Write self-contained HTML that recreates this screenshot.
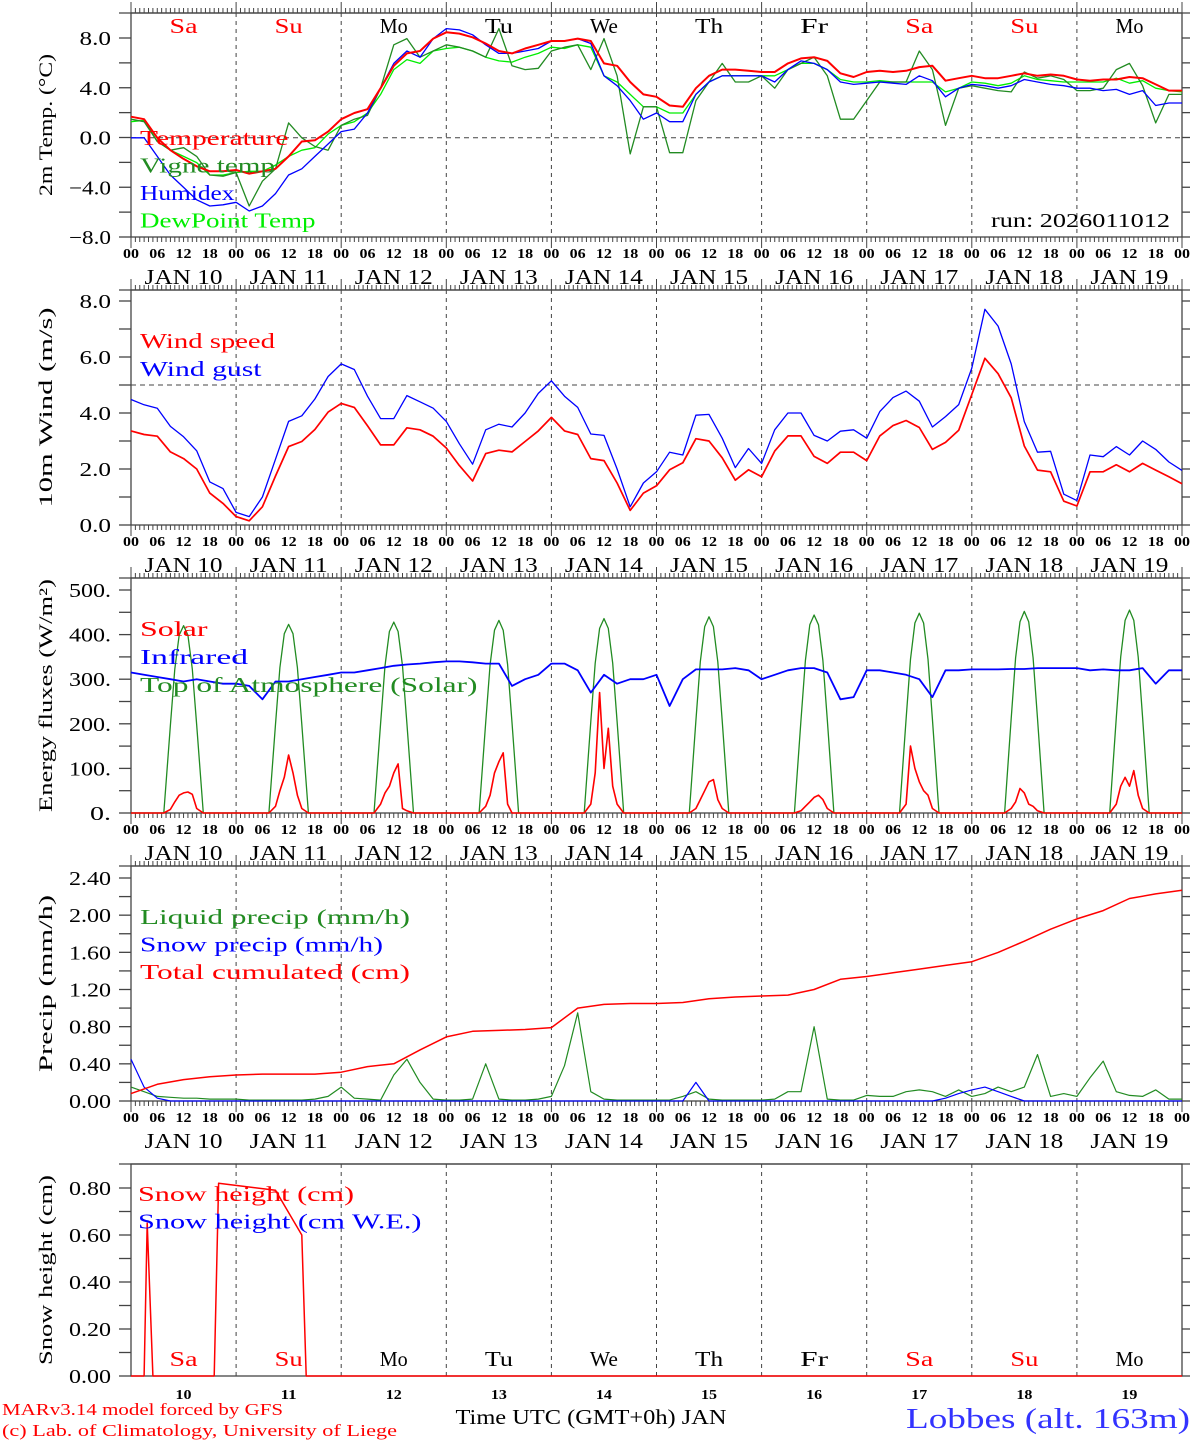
<!DOCTYPE html>
<html><head><meta charset="utf-8"><style>
html,body{margin:0;padding:0;background:#fff;}
svg{display:block;font-family:"Liberation Serif",serif;}
</style></head><body>
<svg id="chart" width="1194" height="1440" viewBox="0 0 1194 1440" xmlns="http://www.w3.org/2000/svg"></svg>
<script>
// ---------- DATA ----------
const dayNames=["Sa","Su","Mo","Tu","We","Th","Fr","Sa","Su","Mo"];
const dayDates=["10","11","12","13","14","15","16","17","18","19"];
const hourTickLabels=["00","06","12","18"];
// 3-hourly temperatures (0..240h)
const tempT=[1.7,1.5,0,-1,-1.7,-2.3,-2.7,-2.7, -2.6,-2.9,-2.7,-2.5,-1.5,-0.3,-0.2,0.5, 1.5,2,2.3,4,5.8,6.8,7,8, 8.5,8.4,8.1,7.6,7,6.8,7.2,7.5, 7.8,7.8,8,7.8,6,5.8,4.5,3.5, 3.3,2.6,2.5,4,5,5.5,5.5,5.4, 5.3,5.3,6,6.4,6.5,6.2,5.2,4.9, 5.3,5.4,5.3,5.4,5.7,5.8,4.6,4.8, 5,4.8,4.8,5,5.2,5,5.1,5, 4.7,4.6,4.7,4.7,4.9,4.8,4.3,3.8, 3.8];
const tempVigne=[1.5,1.3,-0.3,-1,-0.8,-1.5,-3,-3.1, -2.8,-5.5,-3.5,-2.5,1.2,0,-0.7,-1, 1,1.5,1.8,4,7.5,8,6.5,7, 7.5,7.3,7,6.5,8.8,5.8,5.5,5.6, 7,7.3,7.5,5.5,8,5,-1.3,2.5, 2.5,-1.2,-1.2,3,4.5,6,4.5,4.5, 5,4,5.5,6,6.5,5,1.5,1.5, 3,4.5,4.5,4.5,7,5.5,1,4, 4.2,4,3.8,3.7,5.3,4.8,5,4.7, 3.8,3.8,4,5.5,6,4.2,1.2,3.5, 3.5];
const tempHumidex=[0,0,-1.5,-3,-4,-5,-5.5,-5.4, -5.2,-5.9,-5.5,-4.5,-3,-2.5,-1.5,-0.5, 0.5,0.7,2,4,6,7,6.5,8, 8.8,8.7,8.3,7.5,6.8,6.8,7,7.2, 7.8,7.8,8,7.6,5,4.2,3,1.5, 2,1.3,1.3,3.5,4.5,5,5,5, 5,4.5,5.5,6.2,6,5.5,4.5,4.3, 4.4,4.5,4.4,4.3,5,4.6,3.3,4, 4.3,4.2,4,4.2,4.7,4.5,4.3,4.2, 4,4,3.8,3.9,3.5,3.8,2.6,2.8, 2.8];
const tempDew=[1.3,1.4,-0.3,-1,-1.5,-2,-3,-3, -2.8,-2.7,-2.7,-2.2,-1.5,-1,-0.8,0.3, 1,1.3,2,3.5,5.5,6.3,6,7, 7.2,7.3,7,6.5,6.2,6.1,6.5,6.8, 7.3,7.2,7.5,7.3,5,4.5,3.5,2.5, 2.5,2,2,3.5,4.5,5,5,5, 5,5,5.5,6,6,5.5,4.7,4.5, 4.5,4.6,4.5,4.5,4.5,4.5,3.7,4, 4.5,4.4,4.2,4.4,5,4.7,4.6,4.5, 4.5,4.5,4.5,4.8,4.4,4.6,4,3.8, 3.7];
// 3-hourly wind (0..240h)
const windSpeed=[3.36,3.23,3.17,2.61,2.37,2.0,1.14,0.77, 0.3,0.15,0.65,1.75,2.8,2.98,3.41,4.03, 4.34,4.2,3.54,2.86,2.86,3.47,3.4,3.17, 2.75,2.12,1.57,2.55,2.67,2.61,2.98,3.36, 3.84,3.36,3.23,2.37,2.3,1.5,0.52,1.14, 1.4,1.97,2.22,3.08,3.0,2.4,1.6,1.97, 1.72,2.64,3.18,3.18,2.45,2.2,2.6,2.6, 2.3,3.18,3.55,3.73,3.48,2.7,2.95,3.38, 4.66,5.95,5.4,4.54,2.82,1.96,1.9,0.85, 0.68,1.9,1.9,2.15,1.9,2.2,1.96,1.72, 1.47];
const windGust=[4.48,4.29,4.17,3.52,3.15,2.65,1.54,1.3, 0.45,0.3,1.0,2.35,3.7,3.9,4.5,5.3, 5.75,5.55,4.6,3.8,3.8,4.62,4.4,4.17, 3.7,2.9,2.17,3.4,3.6,3.5,4.0,4.7, 5.15,4.6,4.2,3.25,3.2,2.0,0.65,1.5, 1.9,2.6,2.5,3.92,3.95,3.1,2.05,2.73, 2.2,3.4,4.0,4.0,3.2,3.0,3.35,3.4, 3.1,4.05,4.55,4.78,4.42,3.5,3.87,4.3, 5.6,7.7,7.1,5.75,3.69,2.6,2.63,1.1, 0.87,2.5,2.44,2.8,2.5,3.0,2.7,2.25, 1.95];
// daytime flux sample hours
const fluxHours=[7.5,9,10,11,12,13,14,15,16.5, 31.5,33,34,35,36,37,38,39,40.5, 55.5,57,58,59,60,61,62,63,64.5, 79.5,81,82,83,84,85,86,87,88.5, 103.5,105,106,107,108,109,110,111,112.5, 127.5,129,130,131,132,133,134,135,136.5, 151.5,153,154,155,156,157,158,159,160.5, 175.5,177,178,179,180,181,182,183,184.5, 199.5,201,202,203,204,205,206,207,208.5, 223.5,225,226,227,228,229,230,231,232.5];
const toaFlux=[0,197,323,399,420,399,323,197,0, 0,199,326,402,423,402,326,199,0, 0,201,330,407,428,407,330,201,0, 0,203,333,410,432,410,333,203,0, 0,205,336,414,436,414,336,205,0, 0,207,339,418,440,418,339,207,0, 0,209,342,422,444,422,342,209,0, 0,211,345,426,448,426,345,211,0, 0,212,348,429,452,429,348,212,0, 0,214,350,432,455,432,350,214,0];
const solarFlux=[0,8,25,40,45,47,42,10,0, 0,15,50,80,130,90,40,10,0, 0,20,45,60,90,110,10,5,0, 0,15,40,90,115,135,20,0,0, 0,20,90,270,100,190,60,20,0, 0,10,30,50,70,75,30,10,0, 0,5,15,25,35,40,30,10,0, 0,20,150,100,70,50,40,10,0, 0,10,25,55,45,20,15,5,0, 0,20,60,80,60,95,40,10,0];
// 3-hourly infrared
const infraredFlux=[315,310,305,300,295,300,295,290, 290,285,255,295,295,300,305,310, 315,315,320,325,330,333,335,338, 340,340,338,335,335,285,300,310, 335,335,320,270,310,290,300,300, 310,240,300,322,322,322,325,320, 300,310,320,325,325,315,255,260, 320,320,315,310,300,260,320,320, 322,322,322,323,323,325,325,325, 325,320,322,320,320,325,290,320, 320];
// precipitation
const precipCum=[0.08,0.18,0.23,0.26,0.28,0.29,0.29,0.29,0.31,0.37,0.4,0.55,0.69,0.75,0.76,0.77,0.79,1.0,1.04,1.05,1.05,1.06,1.1,1.12,1.13,1.14,1.2,1.31,1.34,1.38,1.42,1.46,1.5,1.6,1.72,1.85,1.96,2.05,2.18,2.23,2.27];
const precipLiquid=[0.15,0.1,0.05,0.04,0.03,0.03,0.02,0.02, 0.02,0.01,0.01,0.01,0.01,0.01,0.02,0.05, 0.15,0.03,0.02,0.01,0.28,0.45,0.2,0.02, 0.01,0.01,0.02,0.4,0.02,0.01,0.01,0.02, 0.05,0.38,0.95,0.1,0.02,0.01,0.01,0.01, 0.01,0.01,0.05,0.1,0.02,0.01,0.01,0.01, 0.01,0.02,0.1,0.1,0.8,0.02,0.01,0.01, 0.06,0.05,0.05,0.1,0.12,0.1,0.05,0.12, 0.05,0.08,0.15,0.1,0.15,0.5,0.05,0.08, 0.05,0.25,0.43,0.1,0.06,0.05,0.12,0.02, 0.02];
const precipSnow=[0.45,0.15,0.03,0,0,0,0,0, 0,0,0,0,0,0,0,0, 0,0,0,0,0,0,0,0, 0,0,0,0,0,0,0,0, 0,0,0,0,0,0,0,0, 0,0,0,0.2,0,0,0,0, 0,0,0,0,0,0,0,0, 0,0,0,0,0,0,0.03,0.08, 0.12,0.15,0.1,0.05,0,0,0,0, 0,0,0,0,0,0,0,0, 0];
// snow height
const snowHours=[0,3,3.7,5,19,20,33,39,40,240];
const snowHeight=[0,0,0.65,0,0,0.82,0.79,0.6,0,0];

// ---------- DRAWING ----------
const NS="http://www.w3.org/2000/svg";
const svg=document.getElementById('chart');
const X0=131,X1=1182;
function xh(h){return X0+h*(X1-X0)/240;}
function mk(tag,attrs,parent){const e=document.createElementNS(NS,tag);for(const k in attrs)e.setAttribute(k,attrs[k]);(parent||svg).appendChild(e);return e;}
function txt(s,x,y,size,fill,anchor,parent,width){const t=mk('text',{x:x,y:y,'font-size':size,fill:fill||'#000','text-anchor':anchor||'start'},parent);t.textContent=s;
  if(width){t.setAttribute('textLength',width);t.setAttribute('lengthAdjust','spacingAndGlyphs');}return t;}

function panel(name,top,bottom,vmin,vmax,yLo,yHi,labelTicks,labelFmt,minorStep,title,titleW,hourAxis){
  const g=mk('g',{});
  
  
  const y=v=>bottom-(v-vmin)*(bottom-top)/(vmax-vmin);
  const py=v=>yLo-(v-vmin)*(yLo-yHi)/(labelTicks[labelTicks.length-1]-vmin);
  mk('rect',{x:X0,y:top,width:X1-X0,height:bottom-top,fill:'none',stroke:'#444','stroke-width':1.3},g);
  for(let d=1;d<10;d++){mk('line',{x1:xh(24*d),x2:xh(24*d),y1:top,y2:bottom,stroke:'#444','stroke-dasharray':'4,4','stroke-width':1},g);}
  const lo=labelTicks[0],hi=labelTicks[labelTicks.length-1];
  for(let v=lo;v<=hi+1e-9;v+=minorStep){const yy=py(v);
    mk('line',{x1:X0-12,x2:X0,y1:yy,y2:yy,stroke:'#444','stroke-width':1.3},g);
    mk('line',{x1:X1,x2:X1+8,y1:yy,y2:yy,stroke:'#444','stroke-width':1.3},g);}
  labelTicks.forEach(v=>{const s=labelFmt(v);const t=txt(s,111,py(v)+7,20,'#000','end',g,s.length*10.5);
    });
  const yt=txt(title,0,0,19,'#000','middle',g,titleW);
  yt.setAttribute('transform','translate(52,'+((top+bottom)/2)+') rotate(-90)');
  
  
  if(hourAxis){
    mk('line',{x1:X0-12,x2:X1+8,y1:top,y2:top,stroke:'#444','stroke-width':1.3},g);
    for(let h=0;h<=240;h++){const xx=xh(h);const L=(h%24==0)?11:5;
      mk('line',{x1:xx,x2:xx,y1:top-L,y2:top,stroke:'#444','stroke-width':1},g);
      mk('line',{x1:xx,x2:xx,y1:bottom,y2:bottom+L,stroke:'#444','stroke-width':1},g);}
    for(let h=0;h<=240;h+=6){const t=txt(hourTickLabels[(h/6)%4],xh(h),bottom+21,14,'#000','middle',g,16);t.setAttribute('font-weight','bold');
      }
    for(let d=0;d<10;d++){const t=txt('JAN  '+dayDates[d],xh(24*d+12),bottom+47,21,'#000','middle',g,78);
      }
  }
  return {g,y,top,bottom};
}
function line(p,hours,vals,color,w,name){
  const pts=vals.map((v,i)=>xh(hours[i]).toFixed(1)+','+p.y(v).toFixed(1)).join(' ');
  const l=mk('polyline',{points:pts,fill:'none',stroke:color,'stroke-width':w,'stroke-linejoin':'round'},p.g);
  
  
}
const h3=[];for(let i=0;i<=80;i++)h3.push(i*3);
const h6=[];for(let i=0;i<=40;i++)h6.push(i*6);
function legend(p,items,x,y0,dy){items.forEach((it,i)=>{const t=txt(it[0],x,y0+i*dy,21,it[1],'start',p.g,it[0].length*13.5);
  });}
function dayLabel(p,d,i,y){const t=txt(d,xh(24*i+12),y,21,(d=='Sa'||d=='Su')?'#ff0000':'#000','middle',p.g,d.length*14);}

// Panel 1 temperature
const p1=panel('temperature-panel',13,237,-8,10.06,237,38,[-8,-4,0,4,8],v=>v==0?'0.0':(v<0?'\u2212'+(-v).toFixed(1):v.toFixed(1)),2,'2m Temp. (\u00B0C)',142,true);
mk('line',{x1:X0,x2:X1,y1:p1.y(0),y2:p1.y(0),stroke:'#444','stroke-dasharray':'5,4'},p1.g);
dayNames.forEach((d,i)=>dayLabel(p1,d,i,33));
line(p1,h3,tempDew,'#00ee00',1.3,'dewpoint-line');
line(p1,h3,tempVigne,'#228b22',1.3,'vigne-temp-line');
line(p1,h3,tempHumidex,'#0000ff',1.3,'humidex-line');
line(p1,h3,tempT,'#ff0000',2,'temperature-line');
legend(p1,[['Temperature','#ff0000'],['Vigne temp','#228b22'],['Humidex','#0000ff'],['DewPoint Temp','#00ee00']],140,145,27.5);
const run=txt('run: 2026011012',1170,227,20,'#000','end',p1.g,179);

// Panel 2 wind
const p2=panel('wind-panel',290,525,0,8.39,525,301,[0,2,4,6,8],v=>v.toFixed(1),1,'10m Wind (m/s)',200,true);
mk('line',{x1:X0,x2:X1,y1:p2.y(5),y2:p2.y(5),stroke:'#444','stroke-dasharray':'5,4'},p2.g);
line(p2,h3,windGust,'#0000ff',1.3,'wind-gust-line');
line(p2,h3,windSpeed,'#ff0000',1.7,'wind-speed-line');
legend(p2,[['Wind speed','#ff0000'],['Wind gust','#0000ff']],140,348,28);

// Panel 3 energy
const p3=panel('energy-panel',578,813,0,527,813,590,[0,100,200,300,400,500],v=>v+'.',50,'Energy fluxes (W/m\u00B2)',233,true);
const fh=[0].concat(fluxHours,[240]);
line(p3,fh,[0].concat(toaFlux,[0]),'#228b22',1.3,'toa-solar-line');
line(p3,h3,infraredFlux,'#0000ff',1.8,'infrared-line');
line(p3,fh,[0].concat(solarFlux,[0]),'#ff0000',1.6,'solar-line');
legend(p3,[['Solar','#ff0000'],['Infrared','#0000ff'],['Top of Atmosphere (Solar)','#228b22']],140,636,28);

// Panel 4 precip
const p4=panel('precip-panel',866,1101,0,2.53,1101,878,[0,0.4,0.8,1.2,1.6,2.0,2.4],v=>v.toFixed(2),0.2,'Precip (mm/h)',177,true);
line(p4,h3,precipLiquid,'#228b22',1.2,'liquid-precip-line');
line(p4,h3,precipSnow,'#0000ff',1.2,'snow-precip-line');
line(p4,h6,precipCum,'#ff0000',1.5,'cumulated-precip-line');
legend(p4,[['Liquid precip (mm/h)','#228b22'],['Snow precip (mm/h)','#0000ff'],['Total cumulated (cm)','#ff0000']],140,924,27.5);

// Panel 5 snow
const p5=panel('snow-panel',1164,1376,0,0.902,1376,1188,[0,0.2,0.4,0.6,0.8],v=>v.toFixed(2),0.1,'Snow height (cm)',190,false);
mk('line',{x1:X0-12,x2:X1+8,y1:1164,y2:1164,stroke:'#444','stroke-width':1.3},p5.g);
line(p5,snowHours,snowHeight,'#ff0000',1.5,'snow-height-line');
dayNames.forEach((d,i)=>dayLabel(p5,d,i,1366));
dayDates.forEach((d,i)=>{const t=txt(d,xh(24*i+12),1399,14,'#000','middle',p5.g,16);t.setAttribute('font-weight','bold');});
legend(p5,[['Snow height (cm)','#ff0000'],['Snow height (cm W.E.)','#0000ff']],138,1201,27.5);
const xt=txt('Time UTC (GMT+0h) JAN',591,1424,21,'#000','middle',null,271);
const c1=txt('MARv3.14 model forced by GFS',2,1415,17,'#ff0000','start',null,281);
const c2=txt('(c) Lab. of Climatology, University of Liege',2,1436,17,'#ff0000','start',null,395);
const st=txt('Lobbes (alt. 163m)',1190,1428,28,'#3333ff','end',null,284);
</script>
</body></html>
